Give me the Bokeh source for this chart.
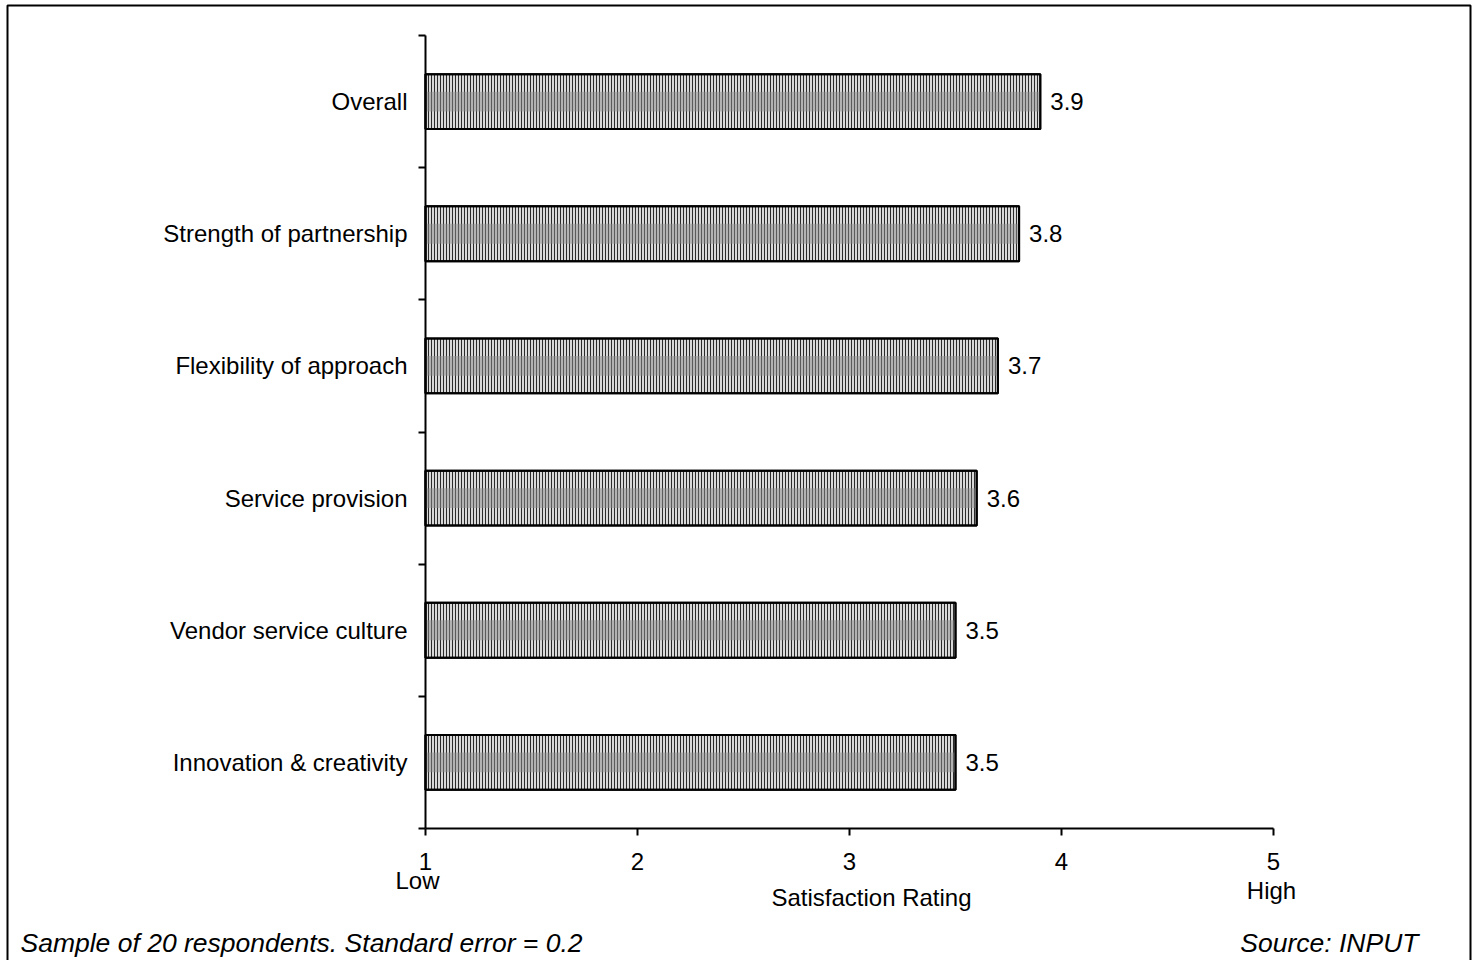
from bokeh.plotting import figure
from bokeh.models import (Range1d, FixedTicker, Label, LabelSet, ColumnDataSource,
                          BoxAnnotation, LinearAxis)
from bokeh.core.properties import value
from bokeh.embed import file_html
from bokeh.resources import INLINE

# Satisfaction ratings by attribute (1 = Low, 5 = High)
categories = [
    "Overall",
    "Strength of partnership",
    "Flexibility of approach",
    "Service provision",
    "Vendor service culture",
    "Innovation & creativity",
]
ratings = [3.9, 3.8, 3.7, 3.6, 3.5, 3.5]
x_ticks = [1, 2, 3, 4, 5]

n = len(categories)
# top category first: centres at n-0.5, n-1.5, ...
centres = [n - 0.5 - i for i in range(n)]
bounds = list(range(n + 1))

FONT = "Liberation Sans"
W, H = 1478, 960

# The frame fills the whole page; the axes are pinned inside it with
# fixed_location so that notes and the page rule can sit around them.
AX_LEFT, AX_RIGHT = 425, 1273      # pixel span of the rating scale 1..5
AX_TOP, AX_BOTTOM = 35, 828        # pixel span of the category band
px_x = (AX_RIGHT - AX_LEFT) / 4.0
px_y = (AX_BOTTOM - AX_TOP) / float(n)
x0 = 1 - AX_LEFT / px_x
x1 = 1 + (W - AX_LEFT) / px_x
y0 = -(H - AX_BOTTOM) / px_y
y1 = n + AX_TOP / px_y


def px_to_x(px):
    return 1 + (px - AX_LEFT) / px_x


def px_to_y(py):
    return (AX_BOTTOM - py) / px_y


p = figure(
    width=W, height=H,
    x_range=Range1d(x0, x1), y_range=Range1d(y0, y1),
    output_backend="svg", toolbar_location=None,
    min_border=0, x_axis_type=None, y_axis_type=None,
)
p.background_fill_color = "white"
p.border_fill_color = "white"
p.outline_line_color = None
p.grid.visible = False

src = ColumnDataSource(dict(
    y=centres, rating=ratings, cat=categories,
    label=[f"{v:.1f}" for v in ratings],
))

# hatched bars
p.hbar(y="y", left=1, right="rating", height=0.415, source=src,
       fill_color="#d8d8d8", line_color="black", line_width=2,
       hatch_pattern="vertical_line", hatch_scale=3, hatch_weight=1,
       hatch_color="#2a2a2a")
# darker middle band of the bar texture
p.hbar(y="y", left=1, right="rating", height=0.15, source=src,
       fill_color="#8c8c8c", fill_alpha=0.5, line_color=None)
# outline on top
p.hbar(y="y", left=1, right="rating", height=0.415, source=src,
       fill_color=None, line_color="black", line_width=2)

# value labels at bar ends
p.add_layout(LabelSet(x="rating", y="y", text="label", source=src,
                      x_offset=10, text_baseline="middle",
                      text_font=value(FONT), text_font_size="24px", text_color="black"))

# x axis (rating scale)
xa = LinearAxis(fixed_location=0, bounds=(1, 5))
xa.ticker = FixedTicker(ticks=x_ticks, minor_ticks=[])
xa.major_label_text_font = FONT
xa.major_label_text_font_size = "24px"
xa.major_label_text_color = "black"
xa.major_tick_out = 7
xa.major_tick_in = 0
xa.minor_tick_out = 0
xa.axis_line_width = 2
xa.major_tick_line_width = 2
xa.major_label_standoff = 17
p.add_layout(xa, "below")

# y axis: category names at centres, tick marks between categories
ya = LinearAxis(fixed_location=1, bounds=(0, n))
ya.ticker = FixedTicker(ticks=centres, minor_ticks=bounds)
ya.major_label_overrides = {c: t for c, t in zip(centres, categories)}
ya.major_label_text_font = FONT
ya.major_label_text_font_size = "24px"
ya.major_label_text_color = "black"
ya.major_tick_out = 0
ya.major_tick_in = 0
ya.minor_tick_out = 7
ya.minor_tick_in = 0
ya.minor_tick_line_width = 2
ya.axis_line_width = 2
ya.major_label_standoff = 11
p.add_layout(ya, "left")

# scale end notes and axis title
p.add_layout(Label(x=1, y=px_to_y(880), text="Low", text_align="center", x_offset=-8,
                   text_baseline="middle", text_font=FONT, text_font_size="24px",
                   text_color="black"))
p.add_layout(Label(x=5, y=px_to_y(890), text="High", text_align="center", x_offset=-2,
                   text_baseline="middle", text_font=FONT, text_font_size="24px",
                   text_color="black"))
p.add_layout(Label(x=px_to_x(871), y=px_to_y(897), text="Satisfaction Rating",
                   text_align="center", text_baseline="middle",
                   text_font=FONT, text_font_size="24px", text_color="black"))

# footnotes
p.add_layout(Label(x=px_to_x(20), y=px_to_y(942),
                   text="Sample of 20 respondents. Standard error = 0.2",
                   text_align="left", text_baseline="middle", text_font=FONT,
                   text_font_style="italic", text_font_size="26.5px",
                   text_color="black"))
p.add_layout(Label(x=px_to_x(1418), y=px_to_y(942), text="Source: INPUT",
                   text_align="right", text_baseline="middle", text_font=FONT,
                   text_font_style="italic", text_font_size="26.5px",
                   text_color="black"))

# page rule (open at the bottom)
p.add_layout(BoxAnnotation(left=px_to_x(7), right=px_to_x(1470),
                           top=px_to_y(5), bottom=px_to_y(1000),
                           fill_color=None, line_color="black", line_alpha=1.0,
                           line_width=2))

open("out.html", "w").write(file_html(p, INLINE))
